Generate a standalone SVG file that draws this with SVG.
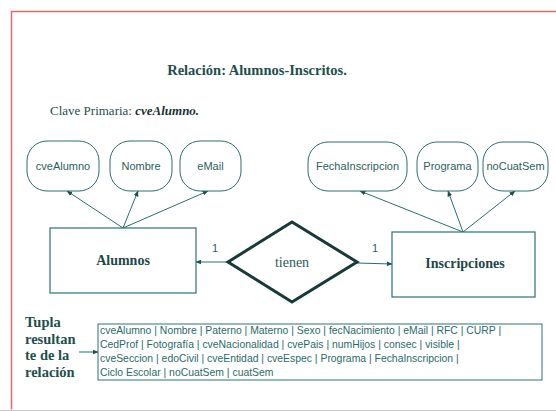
<svg xmlns="http://www.w3.org/2000/svg" width="556" height="411" viewBox="0 0 556 411">
  <defs>
    <marker id="arrow" viewBox="0 0 10 10" refX="9" refY="5" markerWidth="6" markerHeight="6" orient="auto" markerUnits="userSpaceOnUse">
      <path d="M0,1 L10,5 L0,9 Z" fill="#1f4f4f"/>
    </marker>
  </defs>
  <style>
    .frame { fill: none; stroke: #e06a6a; stroke-width: 1.5; }
    .attr rect { fill: #ffffff; stroke: #2a6e6c; stroke-width: 1; }
    .attr text { font-family: "Liberation Sans", Arial, sans-serif; font-size: 11px; fill: #2a6060; text-anchor: middle; }
    .entity rect { fill: #ffffff; stroke: #2a7472; stroke-width: 1.2; }
    .entity text { font-family: "Liberation Serif", "Times New Roman", serif; font-size: 14px; font-weight: bold; fill: #1e4848; text-anchor: middle; }
    .rel polygon { fill: #ffffff; stroke: #173a38; stroke-width: 3; stroke-linejoin: miter; }
    .rel text { font-family: "Liberation Serif", "Times New Roman", serif; font-size: 14px; fill: #2a5a58; text-anchor: middle; }
    .conn { stroke: #2a6e6c; stroke-width: 1; fill: none; marker-end: url(#arrow); }
    .card { font-family: "Liberation Sans", Arial, sans-serif; font-size: 11px; fill: #2a6060; text-anchor: middle; }
    .serif { font-family: "Liberation Serif", "Times New Roman", serif; fill: #1e4f4d; }
    .tuple text { font-family: "Liberation Sans", Arial, sans-serif; font-size: 10.4px; fill: #2a6a6a; }
  </style>

  <rect width="556" height="411" fill="#ffffff"/>

  <!-- page frame -->
  <path class="frame" d="M560,11.5 H11.5 V409.5"/>
  <line x1="0" y1="410.5" x2="556" y2="410.5" stroke="#c8c8c8" stroke-width="1"/>

  <!-- heading -->
  <text class="serif" x="257" y="75" font-size="14.5" font-weight="bold" text-anchor="middle">Relación:  Alumnos-Inscritos.</text>
  <text class="serif" x="50" y="115" font-size="13">Clave Primaria: <tspan font-weight="bold" font-style="italic" fill="#1a3434">cveAlumno.</tspan></text>

  <!-- connectors -->
  <g id="connectors">
    <line class="conn" x1="123" y1="228" x2="67" y2="191"/>
    <line class="conn" x1="123" y1="228" x2="138" y2="191"/>
    <line class="conn" x1="123" y1="228" x2="208" y2="191"/>
    <line class="conn" x1="463" y1="232" x2="360" y2="191"/>
    <line class="conn" x1="463" y1="232" x2="448" y2="191"/>
    <line class="conn" x1="463" y1="232" x2="515" y2="191"/>
    <line class="conn" x1="228" y1="262" x2="196" y2="262"/>
    <line class="conn" x1="357" y1="263" x2="392" y2="264"/>
    <line class="conn" x1="79" y1="352" x2="98" y2="352"/>
    <text class="card" x="215" y="252">1</text>
    <text class="card" x="375" y="252">1</text>
  </g>

  <!-- attributes of Alumnos -->
  <g id="attr-cveAlumno" class="attr">
    <rect x="27" y="141" width="72" height="50" rx="20" ry="20"/>
    <text x="63" y="170">cveAlumno</text>
  </g>
  <g id="attr-Nombre" class="attr">
    <rect x="110" y="141" width="62" height="50" rx="20" ry="20"/>
    <text x="141" y="170">Nombre</text>
  </g>
  <g id="attr-eMail" class="attr">
    <rect x="180" y="141" width="61" height="50" rx="20" ry="20"/>
    <text x="210.5" y="170">eMail</text>
  </g>

  <!-- attributes of Inscripciones -->
  <g id="attr-FechaInscripcion" class="attr">
    <rect x="308" y="142" width="99" height="49" rx="20" ry="20"/>
    <text x="357.5" y="170">FechaInscripcion</text>
  </g>
  <g id="attr-Programa" class="attr">
    <rect x="417" y="142" width="61" height="49" rx="20" ry="20"/>
    <text x="447.5" y="170">Programa</text>
  </g>
  <g id="attr-noCuatSem" class="attr">
    <rect x="483" y="142" width="65" height="49" rx="20" ry="20"/>
    <text x="515.5" y="170">noCuatSem</text>
  </g>

  <!-- entities -->
  <g id="entity-Alumnos" class="entity">
    <rect x="50" y="228" width="146" height="65"/>
    <text x="123" y="265">Alumnos</text>
  </g>
  <g id="entity-Inscripciones" class="entity">
    <rect x="392" y="232" width="143" height="65"/>
    <text x="465" y="268">Inscripciones</text>
  </g>

  <!-- relationship -->
  <g id="rel-tienen" class="rel">
    <polygon points="228,262 292,222 357,262 292,302"/>
    <text x="292" y="267">tienen</text>
  </g>

  <!-- resulting tuple -->
  <g id="tuple-label">
    <text class="serif" x="25" y="327" font-size="14.5" font-weight="bold">Tupla</text>
    <text class="serif" x="25" y="344" font-size="14.5" font-weight="bold">resultan</text>
    <text class="serif" x="25" y="360" font-size="14.5" font-weight="bold">te de la</text>
    <text class="serif" x="25" y="377" font-size="14.5" font-weight="bold">relación</text>
  </g>
  <g id="tuple" class="tuple">
    <rect x="98" y="324" width="444" height="56" fill="#ffffff" stroke="#2a7472" stroke-width="1"/>
    <text x="100" y="334">cveAlumno | Nombre | Paterno | Materno | Sexo | fecNacimiento | eMail | RFC | CURP |</text>
    <text x="100" y="348">CedProf | Fotografía | cveNacionalidad | cvePais | numHijos | consec | visible |</text>
    <text x="100" y="362">cveSeccion | edoCivil | cveEntidad | cveEspec | Programa | FechaInscripcion |</text>
    <text x="100" y="376">Ciclo Escolar | noCuatSem | cuatSem</text>
  </g>
</svg>
